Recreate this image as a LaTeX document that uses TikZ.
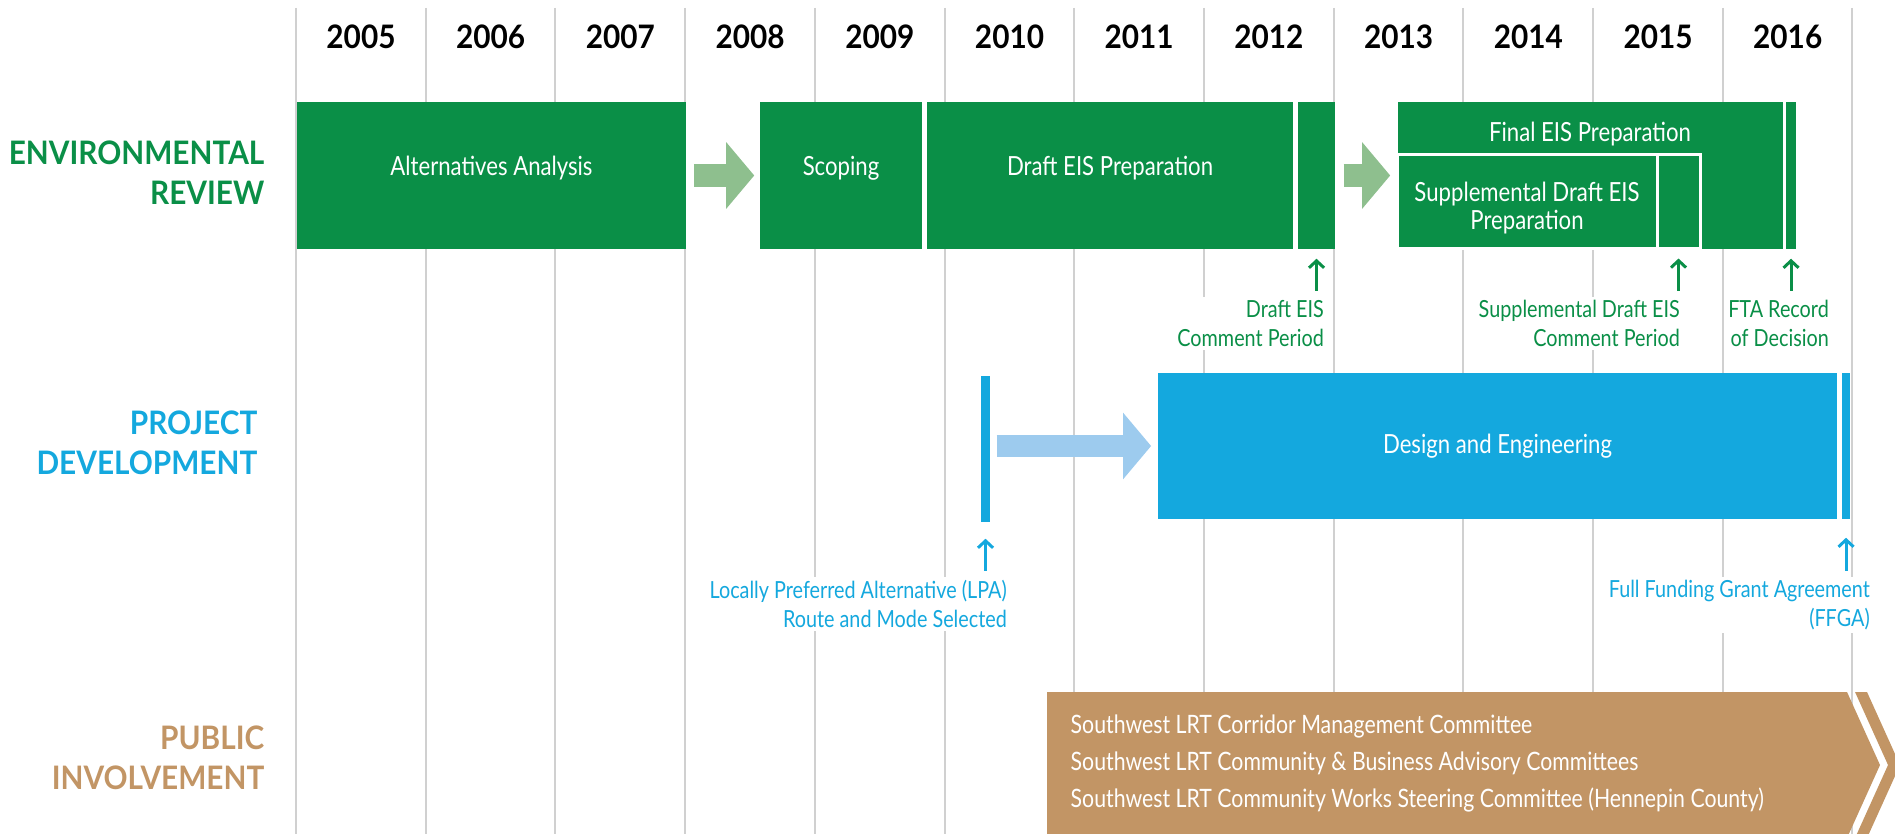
\documentclass[tikz,border=0pt]{standalone}
\usepackage{fontspec}
\setmainfont{Lato}[FakeStretch=0.84]
\newfontfamily\widefam{Lato}[FakeStretch=0.92]
\usetikzlibrary{arrows.meta}

\definecolor{ergreen}{HTML}{0A8F47}
\definecolor{erlight}{HTML}{8EBF8E}
\definecolor{pdblue}{HTML}{14A8DE}
\definecolor{pdlight}{HTML}{9DCBEE}
\definecolor{pitan}{HTML}{C29565}
\definecolor{gridgray}{HTML}{D0D0D0}

\newcommand{\tlsmall}{\fontsize{6.7}{8.2}\selectfont}
\newcommand{\tlbar}{\fontsize{7.5}{9}\selectfont}
\newcommand{\tlbig}{\widefam\fontsize{9.2}{11.4}\selectfont}

\begin{document}
\begin{tikzpicture}
  [x=0.01cm, y=-0.01cm,
   yearline/.style={draw=gridgray, line width=0.02cm},
   year/.style={font=\tlbig\bfseries, inner sep=0pt},
   rowlabel/.style={font=\tlbig\bfseries, align=right, anchor=east, inner sep=0pt},
   erbar/.style={fill=ergreen, text=white, font=\tlbar, inner sep=0pt,
                 minimum height=1.47cm, text height=0.2cm, text depth=0.2cm},
   pdbar/.style={fill=pdblue, text=white, font=\tlbar, inner sep=0pt, minimum height=1.46cm},
   note/.style={font=\tlsmall, fill=white, align=right, anchor=north east, inner sep=1pt},
   ernote/.style={note, text=ergreen},
   pdnote/.style={note, text=pdblue},
   erarrow/.style={draw=erlight, line width=0.23cm, -{Triangle[length=0.28cm, width=0.65cm]}},
   pdarrow/.style={erarrow, draw=pdlight, line width=0.22cm},
   erup/.style={draw=ergreen, line width=0.03cm, -{Straight Barb[length=0.07cm, width=0.15cm]},
                shorten <=0.05cm, shorten >=0.09cm},
   pdup/.style={erup, draw=pdblue, shorten >=0.16cm},
  ]
  \useasboundingbox (0,0) rectangle (1895,834);

  % years
  \foreach \i in {0,...,12}
    \draw[yearline] (296+129.7*\i, 8) -- (296+129.7*\i, 834);
  \foreach \yr [count=\i from 0] in {2005,...,2016}
    \node[year] (y\yr) at (361+129.7*\i, 37) {\yr};

  % row labels
  \node[rowlabel, text=ergreen] (erl) at (265,173) {ENVIRONMENTAL\\REVIEW};
  \node[rowlabel, text=pdblue] (pdl) at (258,443) {PROJECT\\DEVELOPMENT};
  \node[rowlabel, text=pitan] (pil) at (265,758) {PUBLIC\\INVOLVEMENT};

  % environmental review
  \node[erbar, minimum width=3.89cm] (aa) at (491.5,175.5) {Alternatives Analysis};
  \node[erbar, minimum width=1.62cm] (sc) at (841,175.5) {Scoping};
  \node[erbar, minimum width=3.66cm] (dp) at (1110,175.5) {Draft EIS Preparation};
  \node[erbar, minimum width=0.37cm] (dc) at (1316.5,175.5) {};
  \node[erbar, minimum width=3.85cm] (fp) at (1590.5,175.5) {};
  \node[font=\tlbar, text=white, inner sep=0pt] (fpl) at (1590,134) {Final EIS Preparation};
  \node[erbar, minimum width=2.59cm, minimum height=0.93cm, draw=white, line width=0.03cm]
        (sp) at (1527.5,201.5) {};
  \node[font=\tlbar, text=white, align=center, inner sep=0pt] (spl) at (1527,208)
        {Supplemental Draft EIS\\[-1pt]Preparation};
  \node[erbar, minimum width=0.43cm, minimum height=0.93cm, draw=white, line width=0.03cm]
        (sd) at (1678.5,201.5) {};
  \node[erbar, minimum width=0.10cm] (rd) at (1791,175.5) {};

  \draw[erarrow, shorten <=0.07cm, shorten >=0.05cm] (aa.east) -- (sc.west);
  \draw[erarrow, shorten <=0.08cm, shorten >=0.07cm] (dc.east) -- (fp.west);

  \node[ernote] (dcn) at (1328,296) {Draft EIS\\Comment Period};
  \node[ernote] (sdn) at (1684,296) {Supplemental Draft EIS\\Comment Period};
  \node[ernote] (rdn) at (1833,296) {FTA Record\\of Decision};
  \draw[erup] (dc.south |- dcn.north) -- (dc.south);
  \draw[erup] (sd.south |- sdn.north) -- (sd.south);
  \draw[erup] (rd.south |- rdn.north) -- (rd.south);

  % project development
  \node[pdbar, minimum width=0.09cm] (lpa) at (985.5,449) {};
  \node[pdbar, minimum width=6.79cm] (de) at (1497.5,446) {Design and Engineering};
  \node[pdbar, minimum width=0.08cm] (ffg) at (1846,446) {};
  \draw[pdarrow, shorten <=0.06cm, shorten >=0.06cm] (lpa.east |- de.west) -- (de.west);

  \node[pdnote] (lpan) at (1011,576) {Locally Preferred Alternative (LPA)\\Route and Mode Selected};
  \node[pdnote] (ffgn) at (1874,576) {Full Funding Grant Agreement\\(FFGA)};
  \draw[pdup] (lpa.south |- lpan.north) -- (lpa.south);
  \draw[pdup, shorten >=0.18cm] (ffg.south |- ffgn.north) -- (ffg.south);

  % public involvement
  \fill[pitan] (1047,692) -- (1847,692) -- (1880,765) -- (1847,838) -- (1047,838) -- cycle;
  \fill[pitan] (1855,692) -- (1867,692) -- (1900,765) -- (1867,838) -- (1855,838) -- (1888,765) -- cycle;
  \node[font=\fontsize{7.2}{10.5}\selectfont, text=white, align=left, anchor=north west, inner sep=0pt]
    (pin) at (1070,714) {Southwest LRT Corridor Management Committee\\
                         Southwest LRT Community \& Business Advisory Committees\\
                         Southwest LRT Community Works Steering Committee (Hennepin County)};
\end{tikzpicture}
\end{document}
